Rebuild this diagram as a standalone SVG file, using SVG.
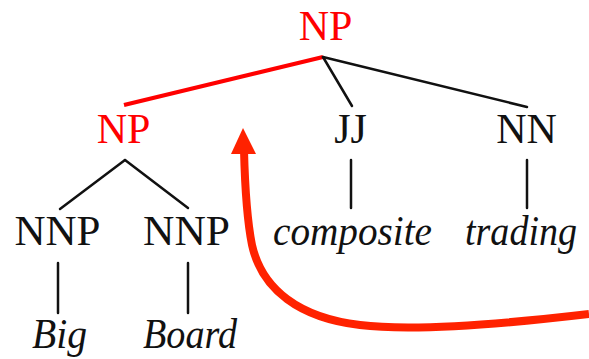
<svg xmlns="http://www.w3.org/2000/svg" width="589" height="359" viewBox="0 0 589 359">
  <style>
    text { font-family: "Liberation Serif", "DejaVu Serif", serif; font-size: 42px; text-anchor: middle; fill: #111; }
    .red { fill: #ff0000; }
    .leaf { font-style: italic; }
    .edge { stroke: #111; stroke-width: 2.5; stroke-linecap: round; fill: none; }
    .edge-red { stroke: #ff0000; stroke-width: 4; stroke-linecap: butt; fill: none; }
    .move { stroke: #ff2200; stroke-width: 8; fill: none; }
  </style>

  <rect width="589" height="359" fill="#ffffff"/>

  <!-- tree edges -->
  <g id="connectors">
    <line class="edge-red" x1="323" y1="57" x2="124" y2="105"/>
    <line class="edge" x1="323" y1="57" x2="352" y2="106"/>
    <line class="edge" x1="323" y1="57" x2="527" y2="107"/>
    <line class="edge" x1="125" y1="160" x2="60" y2="209"/>
    <line class="edge" x1="125" y1="160" x2="188" y2="208"/>
    <line class="edge" x1="351" y1="160" x2="351" y2="208"/>
    <line class="edge" x1="527" y1="160" x2="527" y2="208"/>
    <line class="edge" x1="58" y1="263" x2="58" y2="313"/>
    <line class="edge" x1="188" y1="263" x2="188" y2="313"/>
  </g>

  <!-- movement arrow -->
  <g id="move-arrow">
    <path class="move" d="M589,314 C470,328 400,330 360,325 C300,318 262,290 252,245 C247,220 245,190 244,150"/>
    <polygon points="243,128 231,154 256,154" fill="#ff2200"/>
  </g>

  <g id="np-root"><text class="red" x="325.5" y="40">NP</text></g>
  <g id="np-sub"><text class="red" x="123.5" y="143">NP</text></g>
  <g id="jj"><text x="350.5" y="143">JJ</text></g>
  <g id="nn"><text x="526.5" y="143">NN</text></g>
  <g id="nnp-1"><text x="57.5" y="245" textLength="86" lengthAdjust="spacingAndGlyphs">NNP</text></g>
  <g id="nnp-2"><text x="186.5" y="245" textLength="87" lengthAdjust="spacingAndGlyphs">NNP</text></g>
  <g id="w-composite"><text class="leaf" x="352.5" y="245" textLength="159" lengthAdjust="spacingAndGlyphs">composite</text></g>
  <g id="w-trading"><text class="leaf" x="521" y="245" textLength="112" lengthAdjust="spacingAndGlyphs">trading</text></g>
  <g id="w-big"><text class="leaf" x="59.5" y="348" textLength="55" lengthAdjust="spacingAndGlyphs">Big</text></g>
  <g id="w-board"><text class="leaf" x="190" y="348" textLength="94" lengthAdjust="spacingAndGlyphs">Board</text></g>
</svg>
